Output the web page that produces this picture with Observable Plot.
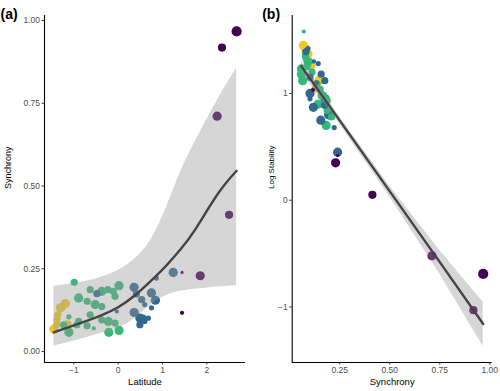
<!DOCTYPE html>
<html>
<head>
<meta charset="utf-8">
<script src="https://cdn.jsdelivr.net/npm/d3@7"></script>
<script src="https://cdn.jsdelivr.net/npm/@observablehq/plot@0.6"></script>
<style>
  html, body { margin: 0; padding: 0; background: white; }
  #wrap { position: relative; width: 500px; height: 391px; display: flex; }
  #wrap svg { display: block; }
</style>
</head>
<body>
<div id="wrap"></div>
<script>
// ---- point data (one entry per site) ----
const latitude = [-1.45,-1.39,-1.38,-1.36,-1.30,-1.19,-1.15,-1.25,
  -0.99,-0.89,-1.11,-1.23,-1.11,-0.89,-0.93,-0.70,-0.63,-0.63,-0.70,-0.52,-0.37,-0.37,-0.23,-0.11,-0.07,0.02,-0.22,-0.21,0.02,-0.37,-0.07,-0.55,
  -0.48,-0.03,0.36,0.41,0.53,0.75,0.84,0.86,0.36,0.60,0.75,1.24,0.49,0.56,0.68,0.49,0.60,
  1.44,1.85,1.44,2.50,2.67,2.34,2.23];
const synchrony = [0.068,0.081,0.096,0.111,0.132,0.145,0.081,0.135,
  0.209,0.162,0.105,0.081,0.058,0.091,0.081,0.152,0.187,0.111,0.078,0.142,0.182,0.136,0.187,0.182,0.167,0.199,0.091,0.058,0.064,0.096,0.086,0.070,
  0.175,0.121,0.194,0.174,0.157,0.177,0.155,0.222,0.118,0.142,0.132,0.239,0.101,0.101,0.101,0.081,0.091,
  0.239,0.229,0.117,0.413,0.967,0.918,0.711];
const logStability = [1.45,1.43,1.37,1.26,1.05,1.12,1.40,1.10,
  0.78,0.98,1.30,1.33,1.23,1.28,1.39,1.04,0.84,1.20,1.35,0.90,0.70,1.09,0.93,0.95,0.98,0.80,1.30,1.18,1.12,1.30,1.25,1.58,
  1.12,1.30,0.80,0.89,1.18,0.95,0.75,0.68,0.87,1.28,1.10,0.45,1.00,1.15,0.95,1.39,1.42,
  0.42,0.35,1.035,0.05,-0.69,-1.03,-0.52];
const pointSize = [4,3,3,3,4,4,4,3,
  3,4,2,3,4,3,3,3,3,3,3,4,4,3,3,3,3,4,4,4,4,3,3,1.5,
  3,1.5,4,3,3,4,4,2,4,2,2,4,4,3,2,3,2,
  1,4,1.5,3.5,4.5,3.5,4];
const group = [4,4,4,4,4,4,4,4,
  3,3,3,3,3,3,3,3,3,3,3,3,3,3,3,3,3,3,3,3,3,3,3,3,
  2,2,2,2,2,2,2,2,2,2,2,2,2,2,2,2,2,
  1,1,1,1,1,1,1];
const groupColors = ["#440154", "#31688E", "#35B779", "#EBC927"];

// ---- fitted curve (a) ----
const fitLatA   = [-1.45,-0.74,-0.37,0,0.38,0.75,1.1,1.4,1.72,2.24,2.67];
const fitA      = [0.058,0.091,0.110,0.134,0.170,0.215,0.262,0.308,0.365,0.475,0.546];
const fitLowA   = [0.016,0.041,0.055,0.071,0.101,0.142,0.170,0.182,0.188,0.195,0.199];
const fitHighA  = [0.197,0.212,0.225,0.245,0.280,0.340,0.440,0.540,0.630,0.760,0.855];

// ---- fitted line (b) ----
const fitSyncB  = [0.057,0.25,0.5,0.75,0.967];
const fitB      = [1.256,0.745,0.083,-0.580,-1.160];
const fitLowB   = [1.200,0.710,0.030,-0.690,-1.370];
const fitHighB  = [1.310,0.780,0.130,-0.470,-0.955];

const rows = latitude.map((d, i) => ({lat: d, sync: synchrony[i], logStab: logStability[i], size: pointSize[i], group: group[i]}));
const ribA = fitLatA.map((d, i) => ({x: d, y: fitA[i], lo: fitLowA[i], hi: fitHighA[i]}));
const ribB = fitSyncB.map((d, i) => ({x: d, y: fitB[i], lo: fitLowB[i], hi: fitHighB[i]}));

const font = "'Liberation Sans', Arial, Helvetica, sans-serif";
const common = {
  width: 250, height: 391, marginTop: 15, marginBottom: 29,
  style: {fontFamily: font, fontSize: "8.5px", color: "#4d4d4d", background: "white", overflow: "visible"},
  r: {type: "linear", domain: [1, 5], range: [1.6, 5.6]},
  color: {type: "ordinal", domain: [1, 2, 3, 4], range: groupColors}
};
const intFmt = d => (d < 0 ? "\u2212" : "") + Math.abs(d);

const xDomA = [-1.66, 2.87], yDomA = [-0.033, 1.015];
const plotA = Plot.plot({
  ...common, marginLeft: 44, marginRight: 5,
  x: {domain: xDomA},
  y: {domain: yDomA},
  marks: [
    Plot.dot(rows, {x: "lat", y: "sync", r: "size", fill: "group", stroke: "none"}),
    Plot.areaY(ribA, {x: "x", y1: "lo", y2: "hi", fill: "#999999", fillOpacity: 0.4, curve: "natural"}),
    Plot.line(ribA, {x: "x", y: "y", stroke: "#444444", strokeWidth: 2.4, curve: "natural"}),
    Plot.ruleX([xDomA[0]], {stroke: "black", strokeWidth: 1.1}),
    Plot.ruleY([yDomA[0]], {stroke: "black", strokeWidth: 1.1}),
    Plot.axisX({ticks: [-1, 0, 1, 2], tickFormat: intFmt, tickSize: 2.5, tickPadding: 2, label: null, stroke: "#333"}),
    Plot.axisY({ticks: [0, 0.25, 0.5, 0.75, 1], tickFormat: d3.format(".2f"), tickSize: 2.5, tickPadding: 2, label: null, stroke: "#333"}),
    Plot.text(["Latitude"], {frameAnchor: "bottom", dy: 22, fontSize: 9.5, fill: "black"}),
    Plot.text(["Synchrony"], {frameAnchor: "left", dx: -36, rotate: -90, fontSize: 9, fill: "black"}),
    Plot.text(["(a)"], {frameAnchor: "top-left", textAnchor: "start", dx: -44, dy: -6, fontSize: 14, fontWeight: "bold", fill: "black"})
  ]
});

const xDomB = [0.012, 1.012], yDomB = [-1.52, 1.73];
const plotB = Plot.plot({
  ...common, marginLeft: 41.7, marginRight: 8.3,
  x: {domain: xDomB},
  y: {domain: yDomB},
  marks: [
    Plot.dot(rows, {x: "sync", y: "logStab", r: "size", fill: "group", stroke: "none"}),
    Plot.areaY(ribB, {x: "x", y1: "lo", y2: "hi", fill: "#999999", fillOpacity: 0.4}),
    Plot.line(ribB, {x: "x", y: "y", stroke: "#444444", strokeWidth: 2.4}),
    Plot.ruleX([xDomB[0]], {stroke: "black", strokeWidth: 1.1}),
    Plot.ruleY([yDomB[0]], {stroke: "black", strokeWidth: 1.1}),
    Plot.axisX({ticks: [0.25, 0.5, 0.75, 1], tickFormat: d3.format(".2f"), tickSize: 2.5, tickPadding: 2, label: null, stroke: "#333"}),
    Plot.axisY({ticks: [-1, 0, 1], tickFormat: intFmt, tickSize: 2.5, tickPadding: 2, label: null, stroke: "#333"}),
    Plot.text(["Synchrony"], {frameAnchor: "bottom", dy: 22, fontSize: 9.5, fill: "black"}),
    Plot.text(["Log Stability"], {frameAnchor: "left", dx: -21, rotate: -90, fontSize: 8, fill: "black"}),
    Plot.text(["(b)"], {frameAnchor: "top-left", textAnchor: "start", dx: -30, dy: -6, fontSize: 14, fontWeight: "bold", fill: "black"})
  ]
});

document.getElementById("wrap").append(plotA, plotB);
</script>
</body>
</html>
